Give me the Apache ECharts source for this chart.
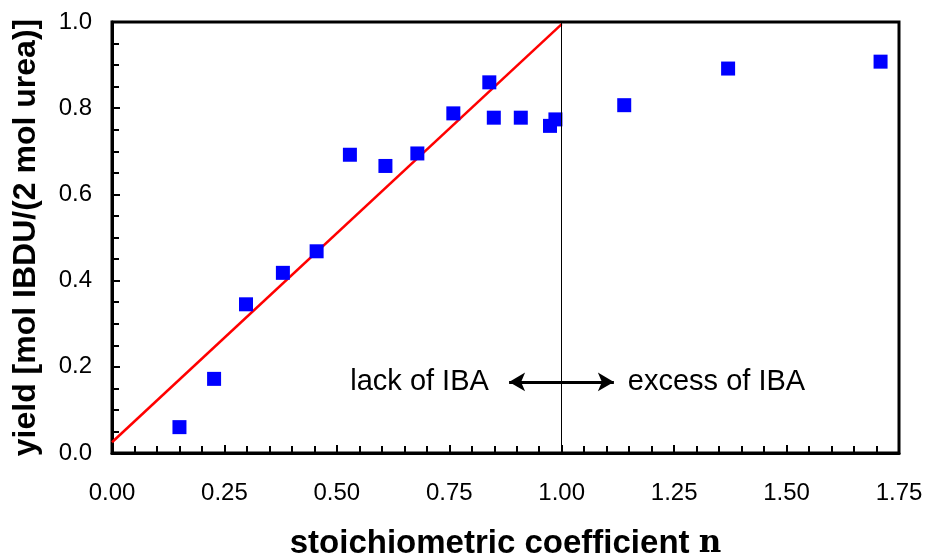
<!DOCTYPE html>
<html>
<head>
<meta charset="utf-8">
<script src="https://cdn.jsdelivr.net/npm/echarts@6/dist/echarts.min.js"></script>
<style>html,body{margin:0;padding:0;background:#fff}#c{width:927px;height:558px}</style>
</head>
<body>
<div id="c"></div>
<script>
// measured data: stoichiometric coefficient n vs yield
var xValues = [0.150, 0.227, 0.298, 0.380, 0.455, 0.529, 0.608, 0.679, 0.759, 0.839, 0.849, 0.909, 0.974, 0.986, 1.139, 1.370, 1.709];
var yValues = [0.060, 0.172, 0.345, 0.418, 0.468, 0.692, 0.666, 0.695, 0.788, 0.860, 0.778, 0.778, 0.759, 0.774, 0.807, 0.892, 0.908];
// fitted red line end points
var fitX = [0, 1.0];
var fitY = [0.025, 0.995];
// vertical divider at n = 1
var dividerX = 1.0;
// double arrow and annotations
var arrowX = [0.883, 1.116];
var arrowY = 0.165;
var annotLeft = {text: 'lack of IBA', x: 0.838};
var annotRight = {text: 'excess of IBA', x: 1.147};
var xTicks = {min: 0, max: 1.75, interval: 0.25};
var yTicks = {min: 0, max: 1.0, interval: 0.2};

var chart = echarts.init(document.getElementById('c'), null, {renderer: 'canvas'});
var pts = xValues.map(function (x, i) { return [x, yValues[i]]; });
var fit = fitX.map(function (x, i) { return [x, fitY[i]]; });

var font = 'Liberation Sans, Arial, sans-serif';
var annLabel = {show: true, distance: 0, color: '#000', opacity: 1, fontSize: 29, fontFamily: font};
chart.setOption({
  animation: false,
  backgroundColor: '#fff',
  grid: {left: 112, top: 22, right: 28, bottom: 105, containLabel: false, outerBoundsMode: 'none',
    show: true, borderColor: '#000', borderWidth: 3, backgroundColor: 'transparent'},
  xAxis: {
    type: 'value', min: xTicks.min, max: xTicks.max, interval: xTicks.interval,
    axisLine: {show: true, onZero: false, lineStyle: {color: '#000', width: 3}},
    axisTick: {show: true, inside: true, length: 8, lineStyle: {color: '#000', width: 2}},
    minorTick: {show: true, splitNumber: 5, length: 7, lineStyle: {color: '#000', width: 2}},
    splitLine: {show: false},
    axisLabel: {color: '#000', fontSize: 24, fontFamily: font, margin: 28, formatter: function (v) { return v.toFixed(2); }},
    name: 'stoichiometric coefficient {n|n}',
    nameLocation: 'middle', nameGap: 74,
    nameTextStyle: {color: '#000', fontSize: 33, fontWeight: 'bold', fontFamily: font,
      rich: {n: {fontFamily: 'DejaVu Serif, serif', fontWeight: 'bold', fontSize: 31, color: '#000'}}}
  },
  yAxis: {
    type: 'value', min: yTicks.min, max: yTicks.max, interval: yTicks.interval,
    axisLine: {show: true, onZero: false, lineStyle: {color: '#000', width: 3}},
    axisTick: {show: true, inside: true, length: 8, lineStyle: {color: '#000', width: 2}},
    minorTick: {show: true, splitNumber: 4, length: 7, lineStyle: {color: '#000', width: 2}},
    splitLine: {show: false},
    axisLabel: {color: '#000', fontSize: 24, fontFamily: font, margin: 20, formatter: function (v) { return v.toFixed(1); }},
    name: 'yield [mol IBDU/(2 mol urea)]',
    nameLocation: 'middle', nameGap: 70, nameRotate: 90,
    nameTextStyle: {color: '#000', fontSize: 32, fontWeight: 'bold', fontFamily: font}
  },
  series: [
    {
      type: 'line', data: fit, showSymbol: false, symbol: 'none',
      lineStyle: {color: '#ff0000', width: 2.5}, z: 2,
      markLine: {
        silent: true, symbol: ['none', 'none'], label: {show: false},
        lineStyle: {color: '#000', width: 1, type: 'solid'},
        data: [{xAxis: dividerX}]
      }
    },
    {
      type: 'scatter', data: pts, symbol: 'rect', symbolSize: 14,
      itemStyle: {color: '#0000ff', opacity: 1}, z: 3
    },
    {
      type: 'scatter', symbolSize: 0, itemStyle: {opacity: 1},
      data: [
        {value: [annotLeft.x, arrowY], label: Object.assign({}, annLabel, {position: 'left', formatter: annotLeft.text})},
        {value: [annotRight.x, arrowY], label: Object.assign({}, annLabel, {position: 'right', formatter: annotRight.text})}
      ],
      markLine: {
        silent: true, symbol: ['arrow', 'arrow'], symbolSize: [14, 16],
        label: {show: false},
        lineStyle: {color: '#000', width: 3, type: 'solid', opacity: 1},
        data: [[{coord: [arrowX[0], arrowY]}, {coord: [arrowX[1], arrowY]}]]
      }
    }
  ]
});
</script>
</body>
</html>
